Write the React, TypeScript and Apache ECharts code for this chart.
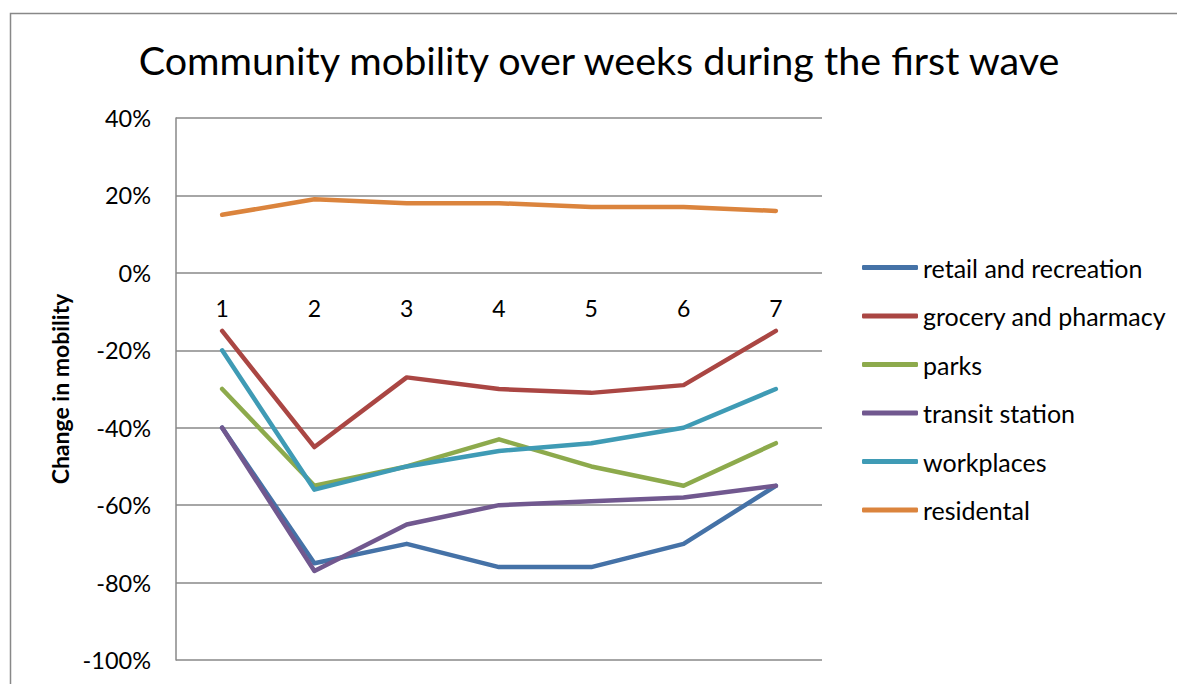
import React, { useEffect, useRef } from "react";
import * as echarts from "echarts";

const weeks = ["1", "2", "3", "4", "5", "6", "7"];
const retail = [-40, -75, -70, -76, -76, -70, -55];
const grocery = [-15, -45, -27, -30, -31, -29, -15];
const parks = [-30, -55, -50, -43, -50, -55, -44];
const transit = [-40, -77, -65, -60, -59, -58, -55];
const workplaces = [-20, -56, -50, -46, -44, -40, -30];
const residental = [15, 19, 18, 18, 17, 17, 16];

const seriesNames = [
  "retail and recreation",
  "grocery and pharmacy",
  "parks",
  "transit station",
  "workplaces",
  "residental",
];
const seriesData = [retail, grocery, parks, transit, workplaces, residental];
const colors = ["#4572A7", "#AA4643", "#8DAA4C", "#71588F", "#3F9BB5", "#DB843D"];

const FONT = "Lato, 'Open Sans', sans-serif";

export default function App() {
  const ref = useRef<HTMLDivElement>(null);
  useEffect(() => {
    document.body.style.margin = "0";
    const chart = echarts.init(ref.current!, null, { renderer: "svg" });
    chart.setOption({
      animation: false,
      textStyle: { fontFamily: FONT },
      title: {
        text: "Community mobility over weeks during the first wave",
        left: 594,
        textAlign: "center",
        top: 34,
        textStyle: { fontFamily: FONT, fontSize: 39.5, fontWeight: "normal", color: "#000" },
      },
      graphic: [
        {
          type: "rect",
          shape: { x: 10.5, y: 13.5, width: 1200, height: 720 },
          style: { fill: "none", stroke: "#888", lineWidth: 1.5 },
          silent: true,
        },
      ],
      grid: { left: 176, top: 118, width: 646, height: 542, containLabel: false, outerBoundsMode: "none" },
      legend: {
        orient: "vertical",
        left: 857,
        top: 250,
        icon: "roundRect",
        itemWidth: 56,
        itemHeight: 5,
        itemGap: 23.5,
        textStyle: { fontFamily: FONT, fontSize: 25, lineHeight: 25, color: "#000" },
        data: seriesNames,
      },
      xAxis: {
        type: "category",
        data: weeks,
        boundaryGap: true,
        position: "bottom",
        offset: -387.1,
        axisLine: { show: false, onZero: false },
        axisTick: { show: false },
        axisLabel: { fontFamily: FONT, fontSize: 23, color: "#000", margin: 24 },
      },
      yAxis: {
        type: "value",
        min: -100,
        max: 40,
        interval: 20,
        name: "Change in mobility",
        nameLocation: "middle",
        nameGap: 104,
        nameTextStyle: { fontFamily: FONT, fontSize: 23, fontWeight: "bold", color: "#000" },
        axisLine: { show: true, lineStyle: { color: "#888", width: 1.5 } },
        axisTick: { show: false },
        axisLabel: { fontFamily: FONT, fontSize: 23.5, color: "#000", margin: 25, formatter: "{value}%" },
        splitLine: { show: true, lineStyle: { color: "#888", width: 1.5 } },
      },
      series: seriesNames.map((name, i) => ({
        name,
        type: "line",
        data: seriesData[i],
        symbol: "none",
        color: colors[i],
        lineStyle: { width: 4.5, color: colors[i], cap: "round", join: "round" },
        z: 2 + i,
      })),
    });
    return () => chart.dispose();
  }, []);
  return <div ref={ref} style={{ width: 1177, height: 684 }} />;
}
